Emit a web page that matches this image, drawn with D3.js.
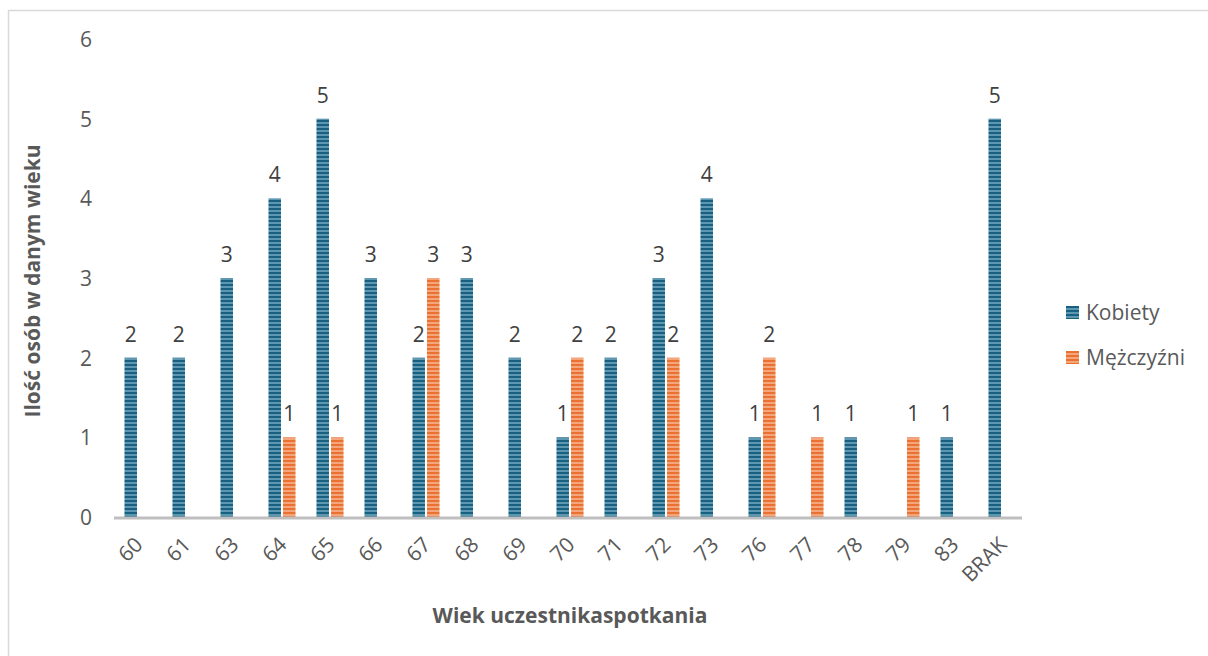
<!DOCTYPE html>
<html><head><meta charset="utf-8">
<script src="https://cdn.jsdelivr.net/npm/d3@7"></script>
<style>body{margin:0;background:#fff;}svg{display:block;}</style>
</head><body>
<svg id="chart" width="1208" height="656"></svg>
<script>
const categories = ["60","61","63","64","65","66","67","68","69","70","71","72","73","76","77","78","79","83","BRAK"];
const seriesNames = ["Kobiety","Mężczyźni"];
const kobiety =    [2,2,3,4,5,3,2,3,2,1,2,3,4,1,0,1,0,1,5];
const mezczyzni =  [0,0,0,1,1,0,3,0,0,2,0,2,0,2,1,0,1,0,0];
const yTicks = [0,1,2,3,4,5,6];

const svg = d3.select("#chart");
const font = "'Open Sans', sans-serif";
const fs = 21;
const defs = svg.append("defs");
function stripe(id, dark, light){
  const p = defs.append("pattern").attr("id", id).attr("patternUnits","userSpaceOnUse")
    .attr("width", 8).attr("height", 4);
  p.append("rect").attr("width",8).attr("height",4).attr("fill", light);
  p.append("rect").attr("width",8).attr("height",2).attr("fill", dark);
}
stripe("pBlue", "#17607f", "#5d97b1");
stripe("pOrange", "#e97132", "#f5a57c");

// border
svg.append("path").attr("d","M8.5,656 V10.5 H1208").attr("fill","none").attr("stroke","#d9d9d9").attr("stroke-width",1.5);

const x0 = d3.scaleBand().domain(categories).range([114, 1026]).paddingInner(0).paddingOuter(0);
const x1 = d3.scaleBand().domain(seriesNames).range([0, x0.bandwidth()]).paddingInner(0.14).paddingOuter(0.72);
const y = d3.scaleLinear().domain([0,6]).range([517, 39]);

const data = categories.map((c,i)=>({cat:c, vals:[{s:"Kobiety",v:kobiety[i]},{s:"Mężczyźni",v:mezczyzni[i]}]}));
const fills = {"Kobiety":"url(#pBlue)","Mężczyźni":"url(#pOrange)"};

const g = svg.append("g");
const groups = g.selectAll("g.grp").data(data).enter().append("g")
  .attr("transform", d=>`translate(${x0(d.cat)},0)`);
groups.selectAll("rect").data(d=>d.vals.filter(v=>v.v>0)).enter().append("rect")
  .attr("x", d=>x1(d.s)).attr("width", x1.bandwidth())
  .attr("y", d=>y(d.v)).attr("height", d=>y(0)-y(d.v))
  .attr("fill", d=>fills[d.s]);
groups.selectAll("text").data(d=>d.vals.filter(v=>v.v>0)).enter().append("text")
  .attr("x", d=>x1(d.s)+x1.bandwidth()/2).attr("y", d=>y(d.v)-16)
  .attr("text-anchor","middle").attr("font-family",font).attr("font-size",fs).attr("fill","#404040")
  .text(d=>d.v);

// x axis line
svg.append("line").attr("x1",114).attr("x2",1022).attr("y1",518).attr("y2",518)
  .attr("stroke","#bfbfbf").attr("stroke-width",3);

// y tick labels
svg.selectAll("text.yt").data(yTicks).enter().append("text")
  .attr("x", 86).attr("y", d=>y(d)+8).attr("text-anchor","middle")
  .attr("font-family",font).attr("font-size",fs).attr("fill","#595959").text(d=>d);

// x tick labels
svg.selectAll("text.xt").data(categories).enter().append("text")
  .attr("transform", d=>`translate(${x0(d)+x0.bandwidth()/2+6},${546}) rotate(-45)`)
  .attr("text-anchor","end").attr("font-family",font).attr("font-size",fs).attr("fill","#595959").text(d=>d);

// axis titles
svg.append("text").attr("x",570).attr("y",623).attr("text-anchor","middle")
  .attr("font-family",font).attr("font-size",fs).attr("font-weight","bold").attr("fill","#595959")
  .text("Wiek uczestnikaspotkania");
svg.append("text").attr("transform","translate(40,281) rotate(-90)").attr("text-anchor","middle")
  .attr("font-family",font).attr("font-size",fs).attr("font-weight","bold").attr("fill","#595959")
  .text("Ilość osób w danym wieku");

// legend
const leg = svg.append("g").selectAll("g").data(seriesNames).enter().append("g")
  .attr("transform",(d,i)=>`translate(1066,${306+i*45})`);
leg.append("rect").attr("width",13).attr("height",13).attr("fill",d=>fills[d]);
leg.append("text").attr("x",20).attr("y",14).attr("font-family",font).attr("font-size",fs)
  .attr("fill","#595959").text(d=>d);
</script>
</body></html>
